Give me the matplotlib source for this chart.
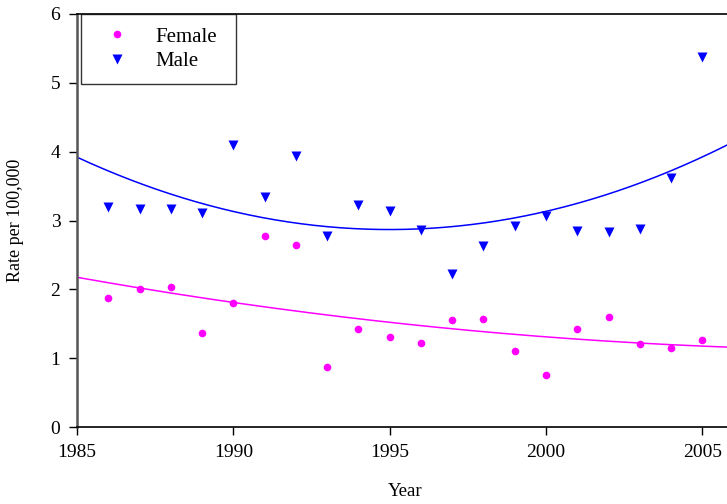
import numpy as np
import matplotlib
matplotlib.use("Agg")
import matplotlib.pyplot as plt

years = np.arange(1986, 2006)
female = [1.87, 2.01, 2.03, 1.36, 1.80, 2.77, 2.64, 0.87, 1.43, 1.31,
          1.22, 1.55, 1.57, 1.11, 0.76, 1.43, 1.60, 1.20, 1.15, 1.27]
male = [3.20, 3.16, 3.17, 3.11, 4.09, 3.34, 3.93, 2.78, 3.23, 3.14,
        2.86, 2.23, 2.63, 2.92, 3.07, 2.85, 2.84, 2.88, 3.62, 5.38]
xticks = [1985, 1990, 1995, 2000, 2005]
yticks = [0, 1, 2, 3, 4, 5, 6]

plt.rcParams['font.family'] = ['Liberation Serif', 'DejaVu Serif']

fig = plt.figure(figsize=(7.27, 5.04), dpi=100)
ax = fig.add_axes([77/727, 77/504, 656.6/727, 413/504])

xs = np.linspace(1985, 2006, 300)
pf = np.polyfit(years, female, 2)
pm = np.polyfit(years, male, 2)
ax.plot(xs, np.polyval(pm, xs), color='#0000ff', lw=1.1, zorder=2)
ax.plot(xs, np.polyval(pf, xs), color='#ff00ff', lw=1.1, zorder=2)

ax.plot(years, female, 'o', color='#ff00ff', ms=5.5, mec='none', label='Female', zorder=3)
ax.plot(years, male, 'v', color='#0000ff', ms=6.8, mec='none', label='Male', zorder=3)

ax.set_xlim(1985, 2006)
ax.set_ylim(0, 6)
ax.set_xticks(xticks)
ax.set_yticks(yticks)
ax.tick_params(direction='out', length=6, width=1, labelsize=14, pad=6)
ax.spines['right'].set_visible(False)
ax.spines['left'].set_color('#555555')
ax.spines['left'].set_linewidth(1.8)
for s in ['top', 'bottom']:
    ax.spines[s].set_linewidth(1.2)

ax.set_xlabel('Year', fontsize=13.5)
ax.xaxis.set_label_coords(0.5, -0.135)
ax.set_ylabel('Rate per 100,000', fontsize=13)
ax.yaxis.set_label_coords(-0.08, 0.5)

leg = ax.legend(loc='upper left', bbox_to_anchor=(81/727, 490/504, 155/727, 0),
                bbox_transform=fig.transFigure, mode='expand', frameon=True, fancybox=False,
                edgecolor='black', fontsize=15, borderpad=0.62, labelspacing=0.26,
                handlelength=2.26, handletextpad=0.7, borderaxespad=0, numpoints=1)
leg.get_frame().set_linewidth(1.0)

fig.savefig('out.png', dpi=100)
